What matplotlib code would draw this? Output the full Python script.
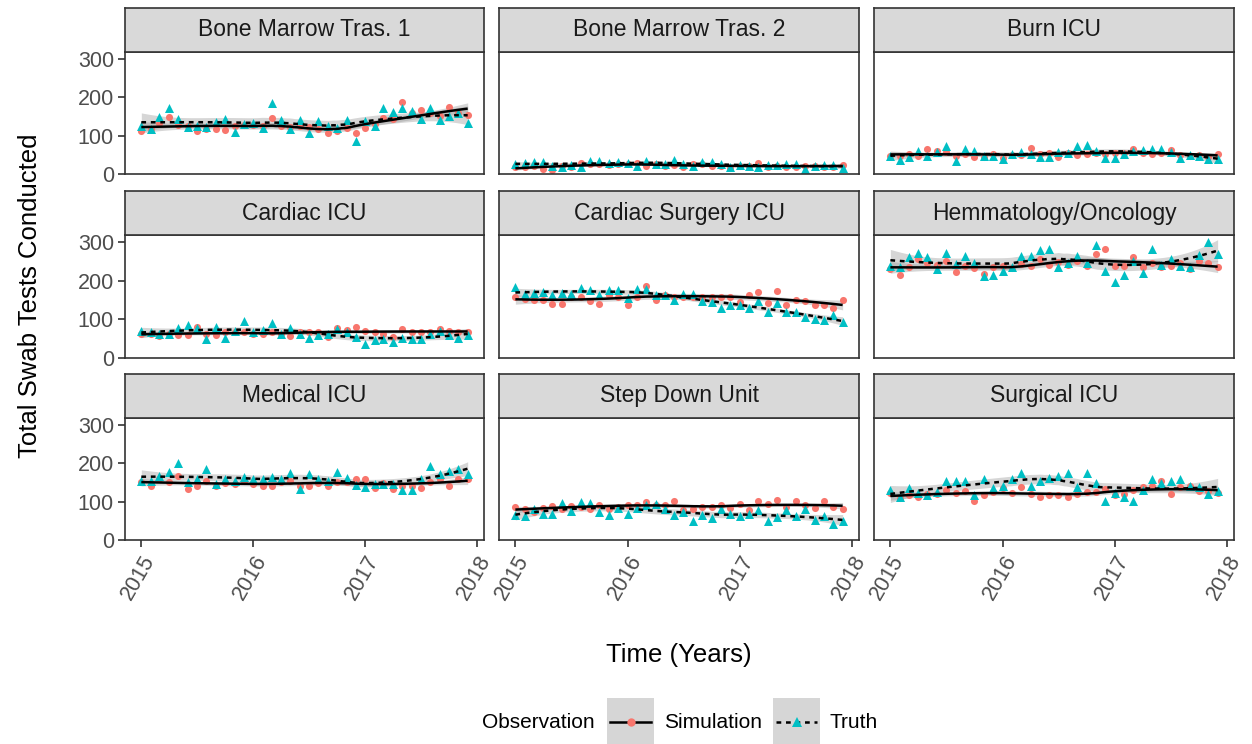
import numpy as np
import pandas as pd
import matplotlib
matplotlib.use("Agg")
import matplotlib.pyplot as plt
from matplotlib.lines import Line2D

plt.rcParams['font.family'] = ['Liberation Sans', 'DejaVu Sans']

# ---------------- data ----------------
units = ["Bone Marrow Tras. 1", "Bone Marrow Tras. 2", "Burn ICU",
         "Cardiac ICU", "Cardiac Surgery ICU", "Hemmatology/Oncology",
         "Medical ICU", "Step Down Unit", "Surgical ICU"]

months = pd.date_range("2015-01-01", periods=36, freq="MS")

sim_bmt1 = [113, 117, 132, 148, 128, 124, 112, 117, 117, 115, 126, 128, 127, 126, 145, 124, 122, 124,
            123, 118, 108, 113, 120, 106, 121, 130, 146, 143, 187, 160, 167, 158, 152, 174, 160, 154]
tru_bmt1 = [126, 117, 148, 171, 144, 122, 126, 122, 135, 144, 110, 130, 132, 119, 184, 141, 117, 141,
            108, 139, 126, 120, 141, 85, 137, 124, 173, 162, 173, 165, 144, 173, 141, 152, 158, 132]

sim_bmt2 = [18, 17, 22, 12, 11, 20, 18, 28, 25, 25, 24, 25, 27, 28, 20, 25, 21, 24,
            17, 26, 27, 22, 20, 15, 20, 22, 28, 19, 20, 19, 18, 22, 22, 18, 19, 24]
tru_bmt2 = [27, 28, 30, 30, 22, 18, 24, 18, 35, 34, 28, 30, 29, 20, 33, 27, 27, 36,
            27, 20, 31, 31, 27, 17, 24, 20, 17, 23, 24, 25, 25, 14, 21, 24, 24, 16]

sim_burn = [46, 48, 52, 47, 64, 60, 58, 48, 52, 45, 44, 52, 42, 50, 50, 67, 53, 55,
            44, 56, 49, 52, 55, 53, 55, 56, 64, 55, 52, 55, 62, 50, 47, 50, 45, 53]
tru_burn = [48, 36, 45, 60, 48, 58, 73, 35, 66, 60, 46, 48, 40, 52, 58, 52, 45, 45,
            58, 55, 73, 75, 60, 42, 43, 52, 60, 62, 65, 66, 58, 42, 50, 48, 40, 38]

sim_cicu = [63, 63, 57, 62, 60, 59, 80, 62, 59, 68, 66, 66, 62, 63, 68, 63, 57, 68,
            68, 66, 54, 77, 72, 79, 70, 66, 63, 54, 75, 68, 66, 66, 75, 70, 68, 68]
tru_cicu = [70, 68, 63, 61, 77, 86, 78, 50, 79, 52, 70, 96, 68, 72, 90, 63, 77, 63,
            52, 59, 63, 75, 66, 54, 37, 46, 50, 41, 52, 50, 50, 63, 70, 59, 52, 59]

sim_csicu = [159, 153, 151, 151, 139, 139, 158, 158, 147, 139, 162, 158, 138, 159, 186, 149, 162, 159,
             158, 159, 158, 159, 159, 159, 145, 162, 171, 143, 173, 136, 151, 147, 138, 138, 130, 151]
tru_csicu = [183, 165, 168, 171, 162, 168, 165, 181, 175, 162, 177, 175, 155, 179, 178, 162, 162, 151,
             165, 165, 147, 145, 128, 138, 136, 130, 147, 118, 143, 118, 118, 105, 101, 98, 111, 93]

sim_hem = [229, 214, 234, 255, 246, 241, 252, 223, 237, 232, 216, 234, 237, 232, 243, 237, 255, 240,
           249, 240, 252, 237, 269, 283, 237, 237, 262, 234, 246, 234, 237, 246, 229, 252, 246, 234]
tru_hem = [237, 234, 260, 272, 260, 231, 272, 243, 263, 246, 211, 214, 225, 234, 265, 263, 278, 283,
           234, 246, 263, 246, 293, 226, 197, 214, 252, 220, 283, 241, 257, 237, 234, 267, 300, 269]

sim_med = [151, 140, 158, 151, 166, 134, 142, 155, 140, 149, 146, 155, 146, 142, 142, 151, 155, 142,
           142, 149, 142, 151, 151, 158, 160, 135, 149, 134, 142, 142, 135, 151, 158, 142, 160, 158]
tru_med = [155, 153, 166, 178, 200, 151, 158, 185, 146, 160, 155, 164, 158, 158, 164, 160, 174, 134,
           173, 160, 155, 176, 162, 144, 137, 146, 146, 146, 131, 131, 158, 194, 173, 180, 185, 173]

sim_sdu = [85, 80, 72, 84, 89, 82, 89, 85, 80, 91, 82, 87, 91, 91, 100, 90, 90, 102,
           78, 80, 87, 87, 91, 84, 93, 78, 102, 93, 104, 87, 102, 90, 84, 102, 87, 82]
tru_sdu = [66, 63, 80, 69, 69, 96, 75, 98, 96, 72, 66, 84, 69, 84, 91, 93, 80, 66,
           72, 49, 66, 58, 82, 69, 63, 69, 78, 49, 60, 78, 63, 80, 51, 63, 42, 49]

sim_sicu = [122, 109, 116, 113, 120, 119, 131, 122, 127, 102, 116, 125, 135, 122, 137, 120, 113, 116,
            116, 113, 120, 124, 126, 134, 116, 119, 131, 137, 142, 155, 119, 137, 142, 128, 128, 122]
tru_sicu = [131, 113, 135, 122, 116, 125, 153, 153, 155, 116, 158, 135, 140, 158, 175, 140, 155, 162,
            166, 175, 137, 175, 149, 102, 122, 111, 102, 131, 158, 149, 153, 158, 142, 137, 119, 127]

simulation = [sim_bmt1, sim_bmt2, sim_burn, sim_cicu, sim_csicu, sim_hem, sim_med, sim_sdu, sim_sicu]
truth = [tru_bmt1, tru_bmt2, tru_burn, tru_cicu, tru_csicu, tru_hem, tru_med, tru_sdu, tru_sicu]

year_ticks = [2015, 2016, 2017, 2018]
count_ticks = [0, 100, 200, 300]

# ---------------- helpers ----------------
def decimal_year(d):
    days = np.where(d.is_leap_year, 366, 365)
    return d.year + (d.dayofyear - 1) / days

def loess(x, y, xs, span=0.75):
    x = np.asarray(x, float); y = np.asarray(y, float)
    n = len(x); q = int(np.floor(n * span))
    def row(x0):
        d = np.abs(x - x0)
        h = np.sort(d)[q - 1] * 1.000001
        u = np.clip(d / h, 0, 1)
        w = (1 - u ** 3) ** 3
        X = np.vstack([np.ones(n), x - x0, (x - x0) ** 2]).T
        XtW = X.T * w
        return np.linalg.solve(XtW @ X, XtW)[0]
    L = np.array([row(v) for v in x])
    res = y - L @ y
    M = (np.eye(n) - L).T @ (np.eye(n) - L)
    d1 = np.trace(M); d2 = np.trace(M @ M)
    s = np.sqrt(res @ res / d1)
    df = d1 ** 2 / d2
    z = 1.959964
    t = z + (z ** 3 + z) / (4 * df) + (5 * z ** 5 + 16 * z ** 3 + 3 * z) / (96 * df ** 2)
    Ls = np.array([row(v) for v in xs])
    fit = Ls @ y
    se = s * np.sqrt((Ls ** 2).sum(1))
    return fit, fit - t * se, fit + t * se

# ---------------- figure ----------------
W, H = 1252, 744
fig = plt.figure(figsize=(W / 100, H / 100), dpi=100)

col_px = [(125, 484), (499, 859), (874, 1234)]
row_px = [(52, 174), (235, 358), (418, 540)]
strip_h = 44
EDGE = '#333333'

x = decimal_year(months)
xs = np.linspace(x.min(), x.max(), 120)

def fig_rect(l, r, t, b):
    return [l / W, 1 - b / H, (r - l) / W, (b - t) / H]

for k, name in enumerate(units):
    r, c = divmod(k, 3)
    (l, rr), (t, b) = col_px[c], row_px[r]
    ax = fig.add_axes(fig_rect(l, rr, t, b))
    sax = fig.add_axes(fig_rect(l, rr, t - strip_h, t))
    sax.set_facecolor('#D9D9D9')
    sax.set_xticks([]); sax.set_yticks([])
    for sp in sax.spines.values():
        sp.set_color(EDGE); sp.set_linewidth(1.2)
    sax.text(0.5, 0.5, name, ha='center', va='center', fontsize=16.5,
             color='#1A1A1A', transform=sax.transAxes)

    ys_sim = np.array(simulation[k], float)
    ys_tru = np.array(truth[k], float)
    f1, lo1, hi1 = loess(x, ys_sim, xs)
    f2, lo2, hi2 = loess(x, ys_tru, xs)

    ax.fill_between(xs, lo1, hi1, color='#999999', alpha=0.4, lw=0, zorder=1)
    ax.fill_between(xs, lo2, hi2, color='#999999', alpha=0.4, lw=0, zorder=1)
    ax.scatter(x, ys_sim, s=26, color='#F8766D', lw=0, zorder=2)
    ax.scatter(x, ys_tru, s=42, marker='^', color='#00BFC4', lw=0, zorder=2)
    ax.plot(xs, f1, color='black', lw=1.8, zorder=3, solid_capstyle='butt')
    ax.plot(xs, f2, color='black', lw=1.8, ls=(0, (1.9, 1.9)), zorder=3)

    span = x.max() - x.min()
    ax.set_xlim(x.min() - 0.05 * span, x.max() + 0.05 * span)
    ax.set_ylim(0, 318)
    ax.set_xticks(year_ticks)
    ax.set_yticks(count_ticks)
    for sp in ax.spines.values():
        sp.set_color(EDGE); sp.set_linewidth(1.2)
    ax.tick_params(length=5, width=1.2, color=EDGE, labelsize=15.5,
                   labelcolor='#4D4D4D', pad=3)
    if c == 0:
        ax.set_yticklabels([str(v) for v in count_ticks])
    else:
        ax.tick_params(axis='y', left=False, labelleft=False)
    if r == 2:
        ax.set_xticklabels([str(v) for v in year_ticks], rotation=60,
                           ha='right', va='top', rotation_mode='anchor')
    else:
        ax.tick_params(axis='x', bottom=False, labelbottom=False)

fig.text(30 / W, 1 - 296 / H, "Total Swab Tests Conducted", rotation=90,
         ha='center', va='center', fontsize=18.5)
fig.text(679 / W, 1 - 655 / H, "Time (Years)", ha='center', va='center', fontsize=18.5)

# legend
ly = 722
fig.text(482 / W, 1 - ly / H, "Observation", ha='left', va='center', fontsize=15)
keys = [(607, 'Simulation', '-', 'o', '#F8766D', 6),
        (773, 'Truth', (0, (1.9, 1.9)), '^', '#00BFC4', 7)]
for kx, lab, ls, mk, col, ms in keys:
    kax = fig.add_axes(fig_rect(kx, kx + 47, 698, 745))
    kax.set_facecolor('#D6D6D6')
    kax.set_xlim(0, 1); kax.set_ylim(0, 1)
    kax.set_xticks([]); kax.set_yticks([])
    for sp in kax.spines.values():
        sp.set_visible(False)
    kax.add_line(Line2D([0.06, 0.94], [0.5, 0.5], color='black', lw=1.8, ls=ls))
    kax.add_line(Line2D([0.5], [0.5], marker=mk, color=col, ms=ms, mew=0, ls='none'))
    fig.text((kx + 57) / W, 1 - ly / H, lab, ha='left', va='center', fontsize=15)

fig.savefig("out.png", dpi=100)
